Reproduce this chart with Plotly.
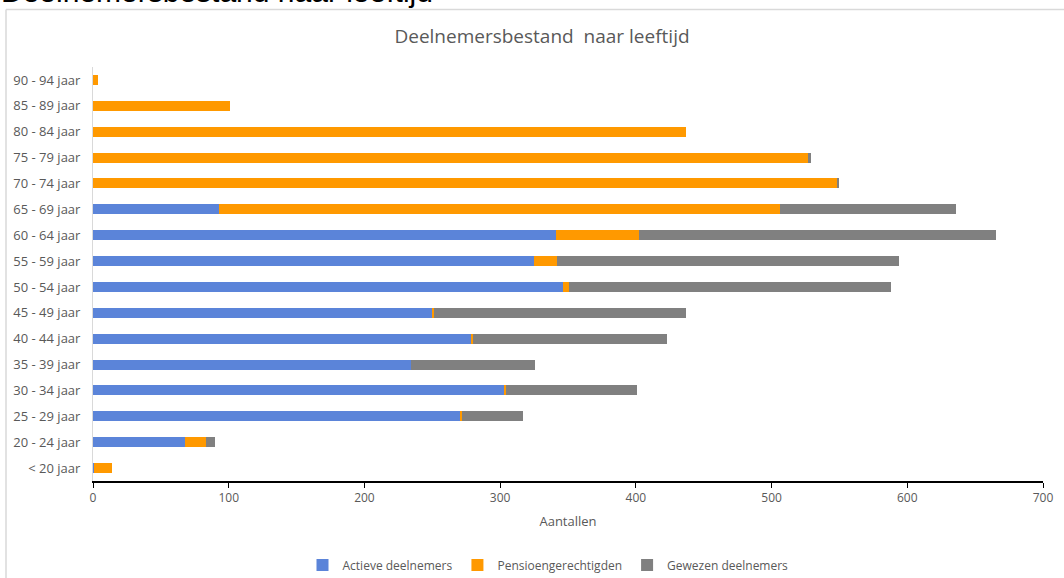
import plotly.graph_objects as go

categories = ["< 20 jaar", "20 - 24 jaar", "25 - 29 jaar", "30 - 34 jaar", "35 - 39 jaar",
              "40 - 44 jaar", "45 - 49 jaar", "50 - 54 jaar", "55 - 59 jaar", "60 - 64 jaar",
              "65 - 69 jaar", "70 - 74 jaar", "75 - 79 jaar", "80 - 84 jaar", "85 - 89 jaar",
              "90 - 94 jaar"]
actieve = [1, 68, 271, 303, 234, 279, 250, 346, 325, 341, 93, 0, 0, 0, 0, 0]
pensioen = [13, 15, 1, 1, 0, 1, 1, 5, 17, 61, 413, 548, 527, 437, 101, 4]
gewezen = [0, 7, 45, 97, 92, 143, 186, 237, 252, 263, 130, 2, 2, 0, 0, 0]
x_ticks = [0, 100, 200, 300, 400, 500, 600, 700]

FONT = "Open Sans"
L, R, T, B = 93, 21, 67, 97
W, H = 1064, 578
pw, ph = W - L - R, H - T - B

def px_x(p):
    return (p - L) / pw

def px_y(p):
    return (H - B - p) / ph

fig = go.Figure()
for name, vals, col in [("Actieve deelnemers", actieve, "#5b84d9"),
                        ("Pensioengerechtigden", pensioen, "#ff9900"),
                        ("Gewezen deelnemers", gewezen, "#808080")]:
    fig.add_trace(go.Bar(y=categories, x=vals, name=name, orientation="h",
                         marker=dict(color=col, line=dict(width=0))))

fig.update_layout(
    barmode="stack", bargap=0.61,
    width=W, height=H,
    margin=dict(l=L, r=R, t=T, b=B, pad=0, autoexpand=False),
    paper_bgcolor="white", plot_bgcolor="white",
    font=dict(family=FONT, color="#595959", size=12),
    title=dict(text="Deelnemersbestand  naar leeftijd", x=542 / W, xanchor="center",
               y=1 - 36 / H, yanchor="middle",
               font=dict(family=FONT, size=19, color="#595959")),
    xaxis=dict(range=[0, 700], tickvals=x_ticks, showgrid=False, zeroline=False,
               showline=True, linecolor="#000000", linewidth=1.5,
               ticks="outside", ticklen=5, tickcolor="#000000", tickwidth=1,
               tickfont=dict(size=12, color="#595959"),
               title=dict(text="Aantallen", font=dict(size=13, color="#595959"), standoff=12)),
    yaxis=dict(categoryorder="array", categoryarray=categories, showgrid=False,
               showline=True, linecolor="#d9d9d9", linewidth=1, ticks="",
               ticklabelstandoff=9, tickfont=dict(size=13, color="#595959")),
    legend=dict(orientation="h", xref="container", x=548 / W, xanchor="center",
                yref="container", y=1 - 565 / H, yanchor="middle",
                font=dict(size=12, color="#595959"), itemwidth=30, traceorder="normal"),
    showlegend=True,
)

# outer chart-area frame (only left and top edges fall inside the window)
fig.add_shape(type="line", xref="paper", yref="paper",
              x0=px_x(6), x1=px_x(6), y0=px_y(H + 5), y1=px_y(9.5),
              line=dict(color="#d9d9d9", width=1.5), layer="below")
fig.add_shape(type="line", xref="paper", yref="paper",
              x0=px_x(6), x1=px_x(W + 5), y0=px_y(9.5), y1=px_y(9.5),
              line=dict(color="#d9d9d9", width=1.5), layer="below")

fig.add_annotation(text="Deelnemersbestand naar leeftijd", xref="paper", yref="paper",
                   x=px_x(-1), xanchor="left", y=px_y(10), yanchor="bottom",
                   showarrow=False, font=dict(family="Liberation Sans", size=30, color="#000000"))

fig.write_html("out.html")
